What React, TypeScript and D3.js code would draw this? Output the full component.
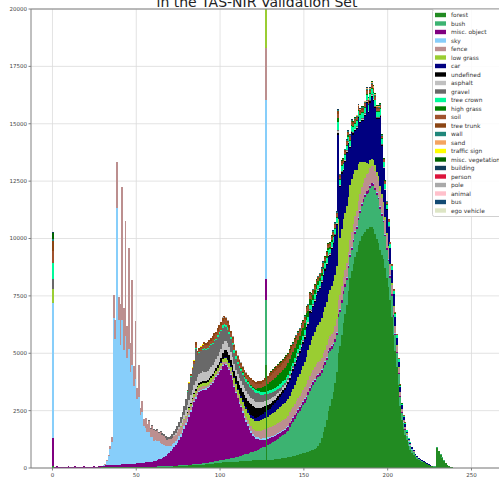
import React from "react";
import * as d3 from "d3";

// class names and colours, in legend order (also stacking order, bottom first)
const classNames = [
  "forest", "bush", "misc. object", "sky", "fence", "low grass", "car", "undefined",
  "asphalt", "gravel", "tree crown", "high grass", "soil", "tree trunk", "wall", "sand",
  "traffic sign", "misc. vegetation", "building", "person", "pole", "animal", "bus", "ego vehicle",
];
const classColors = [
  "#228b22", "#3cb371", "#800080", "#87cefa", "#bc8f8f", "#9acd32", "#000080", "#000000",
  "#c0c0c0", "#696969", "#00fa9a", "#008000", "#a0522d", "#8b4513", "#20877a", "#f4a460",
  "#ffff00", "#006400", "#123d5a", "#dc143c", "#a9a9a9", "#ffc0cb", "#134a73", "#dde5c5",
];

// all counts below are in hundreds of pixels
const UNIT = 100;

// pixel value 0, one entry per class
const zeroBin = [1, 0, 12, 59, 0, 6.1, 0, 0, 0, 4.4, 7, 0, 5, 4.5, 1, 0, 0, 2.5, 0.5, 0, 0, 0, 0, 0];

const forestStart = 1;
const forest = [
  0.1, 0.2, 0.1, 0.2, 0.2, 0.1, 0.2, 0.2, 0.1, 0.2, 0.2, 0.1, 0.2, 0.2, 0.1, 0.2, 0.2, 0.2, 0.1, 0.2, 0.2, 0.2, 0.1, 0.2, 0.2, 0.2, 0.3, 0.2, 0.3,
  0.3, 0.3, 0.3, 0.3, 0.3, 0.4, 0.4, 0.4, 0.4, 0.4, 0.4, 0.4, 0.4, 0.5, 0.5, 0.5, 0.5, 0.5, 0.5, 0.5, 0.5, 0.5, 0.5, 0.6, 0.6, 0.6, 0.6, 0.6, 0.6, 0.6,
  0.6, 0.6, 0.7, 0.7, 0.7, 0.7, 0.7, 0.7, 0.7, 0.7, 0.8, 0.8, 0.8, 0.8, 0.8, 0.9, 0.9, 0.9, 1, 1, 1, 1.1, 1.1, 1.2, 1.2, 1.3, 1.3, 1.4, 1.4, 1.5, 1.5, 1.6, 1.6, 1.7, 1.8, 1.9, 2, 2.1, 2.2, 2.3,
  2.3, 2.4, 2.4, 2.5, 2.5, 2.6, 2.6, 2.7, 2.7, 2.8, 2.8, 2.9, 3, 3, 3.1, 3.1, 3.1, 3.2, 3.2, 3.3, 3.3, 3.3, 3.4, 3.4, 3.4, 3.5, 3.5, 45, 3.5, 3.6,
  3.6, 3.7, 3.8, 3.9, 4, 4.1, 4.2, 4.3, 4.4, 4.5, 4.7,
  4.8, 5, 5.2, 5.4, 5.6, 5.8, 6, 6.2, 6.4, 6.5,
  6.8, 7.1, 7.4, 7.7, 8, 8.3, 8.7, 9.5, 11, 13, 15.5, 18, 21, 25,
  27, 30, 33, 37, 42,
  50, 53, 58, 63, 67, 71, 77, 83, 86, 89, 92, 94, 97, 99, 101, 102, 103, 104, 104, 105, 105,
  104, 102, 100, 98, 95, 93, 91, 87, 83, 79, 73, 66, 58,
  51, 44, 36, 27, 21, 17, 14.5, 12, 9.5, 8, 6.5, 5.8, 4.6, 3.9, 3.4, 3, 2.7, 2.4, 2, 1.6, 1.2, 1, 0.8, 0.6, 0.5,
  8.8, 7.3, 5.8, 4.4, 3.2, 2.2, 1.4, 0.9, 0.6, 0.35, 0.2,
  0.2, 0.2, 0.15, 0.15, 0.1, 0.1, 0.1, 0.1, 0.1, 0.05, 0.05, 0.05, 0.05, 0, 0, 0,
];

const bushStart = 60;
const bush = [
  0.05, 0.05, 0.05, 0.05, 0.05, 0.1, 0.1, 0.1, 0.1, 0.1, 0.1, 0.1, 0.15, 0.15, 0.15, 0.2, 0.2, 0.2, 0.2, 0.2,
  0.25, 0.3, 0.3, 0.35, 0.4, 0.4, 0.45, 0.5, 0.5, 0.55, 0.6, 0.6, 0.65, 0.7, 0.75, 0.8, 0.85, 0.9, 0.95, 1,
  1.1, 1.2, 1.2, 1.3, 1.4, 1.5, 1.6, 1.7, 1.8, 1.9, 2, 2.2, 2.4, 2.6, 2.8, 3, 3.2, 3.4, 3.6, 3.8,
  4, 4.3, 4.6, 4.9, 5.2, 5.5, 5.8, 28, 6.5, 6.9, 7.3, 7.6, 8, 8.4, 8.8, 9.2, 9.6, 10, 10.5, 11, 11.5,
  13, 14, 15, 16, 17, 18, 19, 20, 21, 22, 23, 24.5, 26, 27, 28, 29, 30, 30, 29, 28.5, 28, 27, 26, 25,
  24, 22, 20, 18, 16, 16, 15, 14, 13, 12, 11, 10, 9, 9, 9.5, 10, 10, 11, 12, 13, 14, 15, 15.5, 16, 17,
  18, 19, 19, 19, 19, 18, 17, 16, 14, 12, 11, 10, 9, 8,
  7, 6, 5, 4, 3, 2.5, 2.2, 2, 1.8, 1.6, 1.4, 1.2, 1, 0.9, 0.8, 0.7, 0.6, 0.5, 0.4, 0.3, 0.3, 0.2, 0.2, 0.2, 0.2,
  0.3, 0.3, 0.3, 0.2, 0.2, 0.1, 0.1,
];

const miscObjectStart = 1;
const miscObject = [
  0.3, 0.5, 0.4, 0.3, 0.4, 0.5, 0.3, 0.4, 0.6, 0.4, 0.3, 0.4, 0.5, 0.3, 0.4, 0.4, 0.3, 0.5, 0.4, 0.3, 0.4, 0.3, 0.4, 0.5, 0.4, 0.3, 0.4, 0.5, 0.6,
  0.7, 0.8, 0.8, 0.9, 0.9, 1, 1, 1, 1.1, 1.1, 1.1, 1.2, 1.2, 1.2, 1.3, 1.3, 1.3, 1.4, 1.4, 1.4, 1.5, 1.5, 1.6, 1.6, 1.7, 1.8, 1.9, 2, 2.1, 2.2, 2.3,
  2.5, 2.7, 3, 3.3, 3.7, 4.1, 4.6, 5.1, 5.7, 6.3,
  7.2, 8.1, 9, 10, 11.2, 12.5, 14, 15.8, 17.5, 19,
  21, 23, 25, 27, 28.5, 30, 31, 31.5, 32, 32,
  32, 32.5, 33, 33.5, 34.5, 35.5, 36.5, 37.5, 38.5, 39.5,
  41, 41.5, 41, 40, 38.5, 36.5, 34, 31, 28, 25.5,
  23, 21, 18.5, 16, 14, 12, 10, 8.5, 7, 6,
  5, 4.5, 4, 3.5, 3.2, 3, 9.5, 2.8, 2.6, 2.4,
  2.3, 2.2, 2.1, 2, 2, 1.9, 1.9, 1.8, 1.8, 1.7,
  1.6, 1.6, 1.5, 1.5, 1.5, 1.5, 1.4, 1.4, 1.4, 1.4, 1.3, 1.3, 1.3, 1.3, 1.3, 1.2, 1.2, 1.2, 1.2, 1.2,
  1.2, 1.2, 1.1, 1.1, 1.1, 1.1, 1.1, 1.1, 1, 1, 1, 1, 1, 1, 1, 1, 1, 1, 1, 1,
  1, 1, 1, 1, 1, 1, 1, 1, 1, 1, 1, 1, 0.9, 0.9, 0.9, 0.9, 0.8, 0.8, 0.8, 0.8,
  0.7, 0.7, 0.6, 0.6, 0.5, 0.5, 0.4, 0.4, 0.3, 0.3, 0.3, 0.2, 0.2, 0.2, 0.1,
];

const skyStart = 30;
const sky = [
  0.2, 0.5, 2, 4, 7, 10,
  64, 55, 112, 63, 52, 63, 50, 56, 46, 50, 40, 43, 34, 37, 28, 29, 21, 22, 16, 15,
  13, 13, 11, 10.5, 9, 9, 8.5, 8, 7, 6, 5, 4.2, 3.5, 3, 2.5, 2.2, 2, 1.8, 1.7, 1.5, 1.4, 1.3, 1.2, 1.1, 1,
  0.9, 0.9, 0.8, 0.8, 0.7, 0.7, 0.6, 0.6, 0.5, 0.5, 0.5, 0.4, 0.5, 0.4, 0.4, 0.5, 0.4, 0.4, 0.5, 0.4,
  0.4, 0.4, 0.5, 0.4, 0.4, 0.4, 0.5, 0.4, 0.4, 0.4, 0.5, 0.5, 0.6, 0.6, 0.7, 0.7, 0.8, 0.8, 0.8, 0.8,
  0.8, 0.8, 0.7, 0.7, 0.7, 0.7,
  78,
  0.6, 0.6, 0.6, 0.5, 0.5, 0.5, 0.5, 0.5, 0.5, 0.5, 0.4, 0.4, 0.4, 0.4, 0.4, 0.4, 0.4, 0.4, 0.4, 0.4,
  0.4, 0.4, 0.4, 0.4, 0.4, 0.4, 0.4, 0.4, 0.4, 0.4, 0.3, 0.3, 0.3, 0.3, 0.3, 0.3, 0.3, 0.3, 0.3, 0.3,
  0.3, 0.3, 0.3, 0.3, 0.3, 0.3, 0.3, 0.3, 0.3, 0.3, 0.3, 0.3, 0.3, 0.3, 0.3, 0.3, 0.3, 0.3, 0.3, 0.3,
  0.3, 0.3, 0.3, 0.2, 0.2, 0.2, 0.2, 0.2, 0.2, 0.2, 0.2, 0.2, 0.2,
  0.2, 0.2, 0.2, 0.1, 0.1, 0.1, 0.1, 0.1, 0.1, 0.1, 0.1, 0.1, 0.05, 0.05, 0.05,
];

const fenceStart = 30;
const fence = [
  0, 0.1, 0.2, 0.5, 1.5, 2,
  10, 8, 20, 10, 18, 58, 18, 50, 14, 44, 12.7, 37, 8.7, 25, 4.7, 14, 3, 5, 2.9, 4.5,
  3.5, 5, 3.5, 5, 4.5, 4, 4.5, 3.5, 4.5, 4, 4, 3.5, 3, 3, 2.8, 2.6, 3, 2.8, 3, 3, 3, 2.8, 2.5, 2.3, 2.2,
  2, 1.9, 1.8, 1.7, 1.6, 1.5, 1.4, 1.3, 1.2, 1.1,
  1, 0.9, 1, 1.1, 1, 0.9, 1, 1, 1.1, 1, 1, 0.9, 1, 1.1, 1, 1, 1, 0.9, 1, 1,
  1.1, 1.2, 1.3, 1.4, 1.5, 1.7, 1.9, 2.1, 2.3, 2.5, 2.8, 3, 3.2, 3.4, 3.6, 3.8,
  22.6,
  4, 4, 4.1, 4.2, 4.3, 4.3, 4.3, 4.3, 4.3, 4.3, 4.3, 4.3, 4.3,
  4.4, 4.5, 4.5, 4.6, 4.6, 4.7, 4.7, 4.8, 4.8, 4.9, 5, 5, 5, 5, 5, 5, 5, 5, 5, 5, 5, 5, 5, 5, 5, 5, 5, 5.5, 5.5,
  6, 6, 6, 6, 6, 6, 6, 6, 6.5, 6.5, 6.5, 6.5, 7, 7, 7, 7, 7.2, 7.3, 7.3, 7.4, 7.4, 7.4, 7.2, 7, 7, 6.8, 6.5, 6.2, 6, 5.5,
  5, 4.5, 4, 3.5,
  3, 2.5, 2, 1.5, 1.2, 1, 0.8, 0.6, 0.5, 0.4, 0.3, 0.2,
];

const lowGrassStart = 76;
const lowGrass = [
  0.3, 0.4, 0.5, 0.6, 0.7, 0.8, 0.9, 1, 1.1, 1.2, 1.3, 1.4, 1.4, 1.5, 1.5,
  1.5, 1.5, 1.5, 1.5, 1.5, 1.5, 1.5, 1.5, 1.5, 1.5, 1.5, 1.6, 1.7, 1.8, 1.9, 2, 2.1, 2.2, 2.3, 2.4,
  2.5, 2.6, 2.8, 3, 3.2, 3.4, 3.6, 3.8, 4, 4, 4.1, 4.2, 4.4, 4.6, 4.8, 5,
  25,
  5, 5.2, 5.4, 5.6, 5.8, 6, 6.2, 6.4, 6.6, 6.8, 7, 7.1, 7.3,
  7.3, 7.6, 8, 8.4, 8.8, 9.2, 9.6, 10.1, 10.6, 11.2, 12, 13, 13.6, 14.2, 14.8, 15.4, 16, 16.5, 17, 17.5, 18, 18.5, 19, 19.5,
  20, 21, 22, 22, 23, 35, 25, 25, 25, 25, 25, 24, 24, 23, 22, 20, 18, 16, 14, 11,
  9, 7, 5, 4, 3.5, 3, 2.5, 2.5, 2, 2, 2, 1.8, 1.5, 1.2, 1, 0.8, 0.6, 0.5, 0.4,
  0.3, 0.3, 0.2, 0.2, 0.1, 0.1, 0.1, 0.1,
];

const carStart = 100;
const car = [
  0.2, 0.2, 0.3, 0.3, 0.3, 0.4, 0.4, 0.5, 0.5, 0.5, 0.5, 0.5, 0.6, 0.7, 0.8, 0.9, 1, 1.1, 1.2, 1.3, 1.4,
  1.5, 1.7, 1.9, 2.1, 2.3, 2.5, 3, 2.8, 3, 3.2, 3.4, 3.6, 3.8, 4, 4.3, 4.6, 5, 5.5, 6, 6.5,
  7, 7.3, 7.6, 8, 8.3, 8.6, 9, 9.3, 9.6, 10, 12.5, 11, 14, 12, 12.5, 13, 13.5, 14, 14.5, 15, 15.5, 16, 16, 16,
  15, 16, 16, 17, 18, 37, 22, 24, 21, 22, 23, 23, 16, 20, 17, 17, 18, 20, 17, 18,
  18, 20, 26, 22, 25, 27, 26, 25, 23, 25, 30, 21, 15, 12, 10, 8, 7, 6, 5,
  4, 3.2, 2.6, 2, 1.5, 1.2, 1, 0.8, 0.7, 0.6, 0.5, 0.4, 0.3, 0.3, 0.2, 0.2, 0.15, 0.1, 0.1, 0.1, 0.05, 0.05,
];

const undefinedStart = 80;
const undefinedClass = [
  0.2, 0.3, 0.4, 0.5, 0.5, 0.6, 0.6, 0.7, 0.7, 0.8, 0.8, 0.8, 0.8, 0.9, 0.9, 0.9, 1, 1, 1.2, 1.5, 2,
  2.5, 3, 3, 3, 2.8, 2.6, 2.5, 2.6, 3, 3.2, 3.4, 3.6, 3.8, 4, 4.2, 4.3, 4.4, 4.5, 4.5, 4.4, 4.3, 4, 3.6, 3.2, 2.8,
  2.5, 3, 2.2, 2, 1.8, 1.7, 1.6, 1.5, 1.4, 1.3, 1.2, 1.1, 1, 1, 1,
  0.9, 0.9, 0.8, 0.8, 0.8, 0.7, 0.7, 0.7, 0.6, 0.6, 0.6, 0.6, 0.5, 0.5, 0.5, 0.5, 0.5, 0.5, 0.5, 0.5,
  0.5, 0.5, 0.5, 0.5, 0.5, 0.5, 0.5, 0.5, 0.5, 0.8, 0.5, 0.5, 0.5, 0.5, 0.5, 0.5, 0.5, 0.5, 0.5, 0.5,
  0.5, 0.5, 0.5, 0.5, 0.5, 0.5, 0.5, 0.5, 0.5, 0.5, 0.4, 0.4, 0.4, 0.4, 0.4, 0.3, 0.3, 0.3, 0.3, 0.3,
];

const asphaltStart = 70;
const asphalt = [
  0.2, 0.3, 0.4, 0.6, 0.8, 1, 1.3, 1.6, 2, 2.5, 3,
  3.2, 3.4, 3.5, 3.6, 3.6, 3.7, 3.8, 3.9, 4, 4, 4, 4, 4, 4, 4, 4, 4, 4, 4, 4,
  4, 4, 4, 4, 3.8, 3.6, 3.4, 3.2, 3, 3, 3, 3, 3, 3, 3, 3, 3, 3, 2.9, 2.9, 2.8, 2.7, 2.6, 2.5, 2.4,
  2.3, 3, 2.1, 2, 1.9, 1.8, 1.7, 1.6, 1.5, 1.4, 1.3, 1.2, 1.1, 1, 0.9,
  0.8, 0.8, 0.7, 0.7, 0.7, 0.6, 0.6, 0.6, 0.5, 0.5, 0.5, 0.5, 0.5, 0.4, 0.4, 0.4, 0.4, 0.4, 0.4, 0.4,
  0.4, 0.4, 0.3, 0.3, 0.3, 0.3, 0.3, 0.3, 0.3, 0.6, 0.3, 0.3, 0.3, 0.3, 0.3, 0.3, 0.3, 0.3, 0.3, 0.3,
  0.3, 0.3, 0.3, 0.3, 0.3, 0.3, 0.3, 0.3, 0.3, 0.3, 0.2, 0.2, 0.2, 0.2, 0.2, 0.2, 0.1, 0.1, 0.1, 0.1,
];

const gravelStart = 56;
const gravel = [
  0.3, 0.3, 0.4, 0.4, 0.5, 0.5, 0.6, 0.6, 0.7, 0.7, 0.8, 0.9, 1, 1.1, 1.2, 1.4, 1.6, 1.8, 2, 2.3, 2.7, 3.2, 4, 5, 6,
  7, 8, 8.5, 9, 14, 9.5, 9.5, 9.5, 9.5, 10, 9.5, 9.5, 9.5, 9.5, 9, 9, 8.5, 8.5, 8, 7.5,
  7, 6.5, 6, 5.8, 5.6, 5.4, 5.2, 5, 4.8, 4.6, 4.4, 4.3, 4.2, 4.1, 4, 4, 4, 4, 4, 4, 3.9, 3.8, 3.6, 3.4, 3.2,
  3, 3.5, 2.8, 2.6, 2.4, 2.2, 2, 1.8, 1.6, 1.4, 1.2, 1.1, 1, 0.9, 0.8,
  0.7, 0.7, 0.6, 0.6, 0.6, 0.5, 0.5, 0.5, 0.5, 0.5, 0.4, 0.4, 0.4, 0.4, 0.4, 0.4, 0.4, 0.4, 0.4, 0.4,
  0.3, 0.3, 0.3, 0.3, 0.3, 0.3, 0.3, 0.3, 0.3, 0.6, 0.3, 0.3, 0.3, 0.3, 0.3, 0.3, 0.3, 0.3, 0.3, 0.3,
  0.3, 0.3, 0.3, 0.3, 0.3, 0.3, 0.3, 0.3, 0.3, 0.3, 0.2, 0.2, 0.2, 0.2, 0.2, 0.2, 0.1, 0.1, 0.1, 0.1,
];

const treeCrownStart = 80;
const treeCrown = [
  0.1, 0.1, 0.2, 0.2, 0.2, 0.3, 0.3, 0.3, 0.3, 0.3, 0.4, 0.4, 0.4, 0.4, 0.4, 0.5, 0.5, 0.5, 0.6, 0.7, 0.8,
  0.9, 1, 1, 1, 0.9, 0.9, 0.9, 0.9, 0.9, 0.9, 1, 1, 1, 1, 1, 1, 1, 1, 1, 1,
  1, 1, 1.1, 1.1, 1.2, 1.2, 2, 1.2, 1.3, 1.4, 1.4, 1.5, 1.5, 1.5, 1.5, 1.5, 1.5, 1.5, 1.5, 1.5,
  1.5, 1.6, 1.6, 1.7, 1.7, 1.8, 1.8, 1.9, 1.9, 2, 2, 2, 2, 2, 2, 2, 2, 2, 2, 2,
  2, 2, 2, 2, 2, 2, 2, 2, 2, 3.5, 2, 2, 2, 2, 2, 2, 2.2, 2.2, 2.2, 2.2,
  2.2, 2.2, 2.4, 2.4, 2.4, 2.4, 2.5, 2.5, 2.5, 2.5, 2.5, 2.5, 2.4, 2.4, 2.8, 2.2, 2, 1.9, 1.8, 1.7,
  1.6, 1.5, 1.4, 1.3, 1.2, 1, 0.9, 0.8, 0.7, 0.6, 0.5, 0.4, 0.3, 0.3, 0.2,
];

const highGrassStart = 110;
const highGrass = [
  0.1, 0.1, 0.2, 0.2, 0.3, 0.3, 0.4, 0.4, 0.5, 0.5, 0.6, 0.8, 1, 1.3, 1.6, 2,
  2.5, 4, 3, 3.5, 3.7, 4, 4.2, 4.4, 4.6, 4.8, 5, 5, 5, 5, 5, 5, 4.8, 4.6, 4.4, 4.2,
  4, 3.8, 3.6, 3.4, 3.2, 3, 2.8, 2.6, 2.4, 2.2, 2, 1.8, 1.6, 1.4, 1.2, 1, 1, 0.9, 0.9, 0.8, 0.8, 0.7, 0.7, 0.6, 1.5,
  0.6, 0.6, 0.5, 0.5, 0.5, 0.5, 0.5, 0.5, 0.4, 0.4, 0.4, 0.4, 0.4, 0.4, 0.4, 0.4, 0.4, 0.4, 0.4, 0.4,
  0.3, 0.3, 0.3, 0.3, 0.3, 0.3, 0.3, 0.3, 0.3, 0.3, 0.2, 0.2, 0.2, 0.2, 0.2, 0.2, 0.1, 0.1, 0.1, 0.1,
];

const soilStart = 80;
const soil = [
  0.3, 0.4, 0.5, 0.6, 0.8, 1.5, 1, 1, 1.2, 1.3, 1.4, 1.5, 1.5, 1.6, 1.6, 1.7, 1.7, 1.8, 1.8, 1.9, 2,
  2, 2, 2, 1.9, 1.8, 1.8, 1.7, 1.7, 1.6, 1.6, 1.6, 1.6, 1.6, 1.6, 1.7, 1.8, 1.9, 2, 2, 2,
  2, 2, 2, 2.1, 2.2, 2.3, 3, 2.5, 2.6, 2.8, 3, 3, 3, 3, 3, 3, 3, 3, 2.9, 2.8,
  2.7, 2.6, 2.5, 2.4, 2.3, 2.2, 2.1, 2, 1.9, 1.8, 1.7, 1.6, 1.5, 1.4, 1.3, 1.2, 1.2, 1.1, 1.1, 1,
  1, 1, 1, 1, 1, 1, 1, 1, 1, 2, 1, 1, 1, 1, 1, 1, 1, 1, 1, 1,
  1, 1, 1, 1, 1, 1, 1, 1, 1, 1.1, 1.1, 1, 1, 0.9, 0.9, 0.8, 0.8, 0.7, 0.7, 0.6,
  0.5, 0.5, 0.4, 0.4, 0.3, 0.3, 0.2, 0.2, 0.1, 0.1,
];

const treeTrunkStart = 80;
const treeTrunk = [
  0.2, 0.3, 0.3, 0.4, 0.5, 1, 0.6, 0.7, 0.8, 0.8, 0.9, 1, 1, 1, 1.1, 1.1, 1.2, 1.2, 1.3, 1.3, 1.4,
  1.4, 1.4, 1.3, 1.2, 1.1, 1, 1, 1, 1, 1, 1, 1, 1, 1, 1, 1, 1, 1, 1, 1,
  1, 1, 1, 1, 1.1, 1.1, 1.5, 1.2, 1.3, 1.4, 1.5, 1.5, 1.5, 1.5, 1.5, 1.5, 1.5, 1.4, 1.4, 1.3,
  1.3, 1.3, 1.2, 1.2, 1.1, 1.1, 1, 1, 1, 1, 0.9, 0.9, 0.9, 0.9, 0.8, 0.8, 0.8, 0.8, 0.8, 0.8,
  0.7, 0.7, 0.7, 0.7, 0.7, 0.7, 0.7, 0.7, 0.7, 1.5, 0.7, 0.7, 0.7, 0.7, 0.7, 0.7, 0.7, 0.7, 0.7, 0.7,
  0.7, 0.7, 0.7, 0.7, 0.7, 0.7, 0.7, 0.7, 0.7, 0.7, 0.7, 0.7, 0.6, 0.6, 0.6, 0.5, 0.5, 0.5, 0.4, 0.4,
  0.3, 0.3, 0.3, 0.2, 0.2, 0.2, 0.1, 0.1, 0.1, 0.1,
];

const wallStart = 140;
const wall = [
  0.1, 0.1, 0.2, 0.2, 0.2, 0.2, 0.2, 0.2, 0.2, 0.2, 0.2, 0.2, 0.2, 0.2, 0.2, 0.2, 0.2, 0.2, 0.2, 0.2,
  0.2, 0.2, 0.2, 0.2, 0.2, 0.2, 0.2, 0.2, 0.2, 0.3, 0.2, 0.2, 0.2, 0.2, 0.2, 0.2, 0.2, 0.2, 0.2, 0.2,
  0.2, 0.2, 0.2, 0.2, 0.2, 0.2, 0.2, 0.2, 0.2, 0.2, 0.2, 0.2, 0.2, 0.2, 0.2, 0.1, 0.1, 0.1, 0.1, 0.1,
];

const sandStart = 180;
const sand = [0.2, 0.2, 0.3, 0.3, 0.3, 0.4, 0.4, 0.5, 0.6, 0.5, 0.7, 0.8, 0.5, 0.4, 0.4, 0.3, 0.2];

const trafficSignStart = 80;
const trafficSign = [0.1, 0.1, 0.2, 0.2, 0.3, 0.3, 0.2, 0.1, 0.1, 0.1];

const miscVegetationStart = 130;
const miscVegetation = [
  0.2, 0.2, 0.2, 0.3, 0.3, 0.3, 0.3, 0.3, 0.3, 0.3, 0.3, 0.3, 0.3, 0.3, 0.3, 0.3, 0.3, 0.3, 0.3, 0.3,
  0.3, 0.3, 0.3, 0.3, 0.3, 0.3, 0.3, 0.3, 0.3, 0.3, 0.3, 0.3, 0.3, 0.3, 0.3, 0.3, 0.3, 0.3, 0.3, 0.3,
  0.3, 0.3, 0.3, 0.3, 0.3, 0.3, 0.3, 0.3, 0.3, 0.3, 0.3, 0.3, 0.3, 0.3, 0.3, 0.3, 0.3, 0.3, 0.3, 0.3,
  0.3, 0.3, 0.3, 0.3, 0.3, 0.3, 0.2, 0.2, 0.2, 0.2,
];

const buildingStart = 160;
const building = [0.1, 0.1, 0.1, 0.1, 0.1, 0.1, 0.1, 0.1, 0.1, 0.1, 0.1, 0.1, 0.1, 0.1, 0.1, 0.1, 0.1, 0.1, 0.1, 0.1, 0.1, 0.1, 0.1, 0.1, 0.1, 0.1, 0.1, 0.1, 0.1, 0.1];

const poleStart = 100;
const pole = [0.1, 0.1, 0.1, 0.1, 0.1, 0.1, 0.1, 0.1, 0.1, 0.1, 0.1, 0.1, 0.1, 0.1, 0.1, 0.1, 0.1, 0.1, 0.1, 0.1];

const emptyStart = 1;
const empty: number[] = [];

// one entry per class, same order as classNames
const classStarts = [
  forestStart, bushStart, miscObjectStart, skyStart, fenceStart, lowGrassStart, carStart, undefinedStart,
  asphaltStart, gravelStart, treeCrownStart, highGrassStart, soilStart, treeTrunkStart, wallStart, sandStart,
  trafficSignStart, miscVegetationStart, buildingStart, emptyStart, poleStart, emptyStart, emptyStart, emptyStart,
];
const classValues = [
  forest, bush, miscObject, sky, fence, lowGrass, car, undefinedClass,
  asphalt, gravel, treeCrown, highGrass, soil, treeTrunk, wall, sand,
  trafficSign, miscVegetation, building, empty, pole, empty, empty, empty,
];

const xTicks = [0, 50, 100, 150, 200, 250];
const yTicks = [0, 2500, 5000, 7500, 10000, 12500, 15000, 17500, 20000];

const FONT = "DejaVu Sans, sans-serif";

const App = () => {
  const width = 499;
  const height = 479;
  const left = 31;
  const right = 503;
  const top = 9;
  const bottom = 468;

  const x = d3.scaleLinear().domain([-12.8, 268.8]).range([left, right]);
  const y = d3.scaleLinear().domain([0, 20000]).range([bottom, top]);

  // build one row per pixel value (bin) with a count for each class
  const bins = d3.range(256);
  const table = bins.map((b) => {
    const row: Record<string, number> = { bin: b };
    classNames.forEach((name, i) => {
      let v = 0;
      if (b === 0) {
        v = zeroBin[i];
      } else {
        const k = b - classStarts[i];
        if (k >= 0 && k < classValues[i].length) v = classValues[i][k];
      }
      row[name] = v * UNIT;
    });
    return row;
  });

  const stacked = d3.stack<Record<string, number>>().keys(classNames)(table);

  return (
    <svg
      width={width}
      height={height}
      style={{ position: "absolute", left: 0, top: 0, background: "#fff" }}
      fontFamily={FONT}
    >
      <defs>
        <clipPath id="plot-area">
          <rect x={left} y={top} width={right - left} height={bottom - top} />
        </clipPath>
      </defs>

      {/* grid */}
      <g stroke="#dcdcdc" strokeWidth={0.8}>
        {xTicks.map((t) => (
          <line key={`gx${t}`} x1={x(t)} x2={x(t)} y1={top} y2={bottom} />
        ))}
        {yTicks.map((t) => (
          <line key={`gy${t}`} x1={left} x2={right} y1={y(t)} y2={y(t)} />
        ))}
      </g>

      {/* stacked histogram */}
      <g clipPath="url(#plot-area)" shapeRendering="crispEdges">
        {stacked.map((layer, li) => (
          <g key={layer.key} fill={classColors[li]}>
            {layer.map((d, b) =>
              d[1] > d[0] ? (
                <rect
                  key={b}
                  x={x(b)}
                  width={x(b + 1) - x(b) + 0.2}
                  y={y(d[1])}
                  height={Math.max(0.6, y(d[0]) - y(d[1]))}
                />
              ) : null
            )}
          </g>
        ))}
      </g>

      {/* axes frame */}
      <g stroke="#808080" strokeWidth={1} fill="none">
        <line x1={left} x2={left} y1={top} y2={bottom} />
        <line x1={left} x2={right} y1={bottom} y2={bottom} />
        <line x1={left} x2={right} y1={top} y2={top} />
      </g>

      {/* ticks */}
      <g fontSize={5.5} fill="#444">
        {xTicks.map((t) => (
          <g key={`tx${t}`}>
            <line x1={x(t)} x2={x(t)} y1={bottom} y2={bottom + 2.5} stroke="#808080" />
            <text x={x(t)} y={bottom + 8.5} textAnchor="middle">
              {t}
            </text>
          </g>
        ))}
        {yTicks.map((t) => (
          <g key={`ty${t}`}>
            <line x1={left - 2.5} x2={left} y1={y(t)} y2={y(t)} stroke="#808080" />
            <text x={left - 4} y={y(t)} dy="0.35em" textAnchor="end">
              {t}
            </text>
          </g>
        ))}
      </g>

      {/* title (only its second line falls inside the picture) */}
      <text x={257} y={7} textAnchor="middle" fontSize={14} fill="#222">
        in the TAS-NIR Validation Set
      </text>

      {/* legend */}
      <g>
        <rect x={432.5} y={9.5} width={80} height={207} fill="#fff" fillOpacity={0.85} stroke="#d0d0d0" rx={2} />
        {classNames.map((name, i) => (
          <g key={name} transform={`translate(435, ${15 + i * 8.5})`}>
            <rect x={0} y={-2.2} width={11} height={4.4} fill={classColors[i]} />
            <text x={16} y={0} dy="0.35em" fontSize={5.9} fill="#333">
              {name}
            </text>
          </g>
        ))}
      </g>
    </svg>
  );
};

export default App;
